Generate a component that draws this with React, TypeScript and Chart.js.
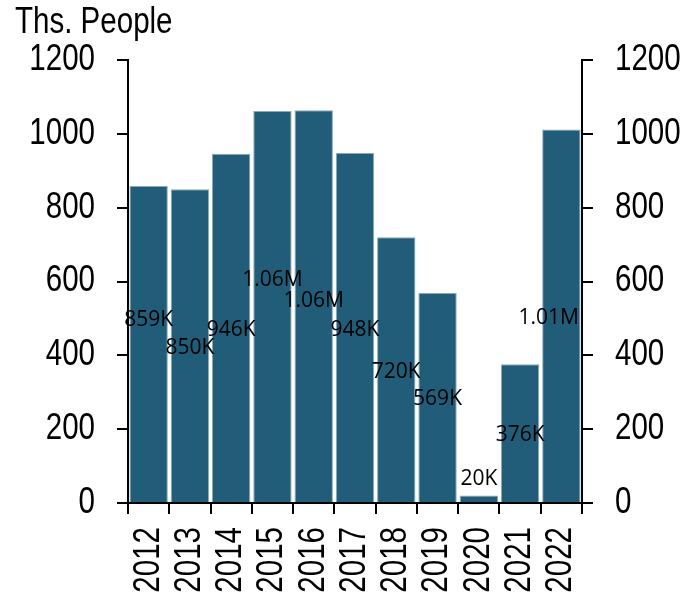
import React, { useEffect, useRef } from "react";
import { Chart, registerables } from "chart.js";

Chart.register(...registerables);

const categories = ["2012", "2013", "2014", "2015", "2016", "2017", "2018", "2019", "2020", "2021", "2022"];
const values = [859, 850, 946, 1062, 1064, 948, 720, 569, 20, 376, 1012];
// vertical nudge of each value label, in axis units (label otherwise sits at mid-bar)
const labelNudge = [70, 0, 0, 76, 18, 0, 0, 0, 0, 0, 0];
const yTicks = [0, 200, 400, 600, 800, 1000, 1200];
const titleText = "Ths. People";

const AXIS_FONT = "'Liberation Sans', Arial, sans-serif";
const AXIS_SIZE = 36;
const NARROW = 0.82; // horizontal squeeze to mimic a narrow face
const LABEL_FONT = "'Open Sans', 'Noto Sans', sans-serif";

const fmt = (v: number) => (v >= 1000 ? `${(v / 1000).toFixed(2)}M` : `${v}K`);

const labelPlugin = {
  id: "barLabels",
  afterDatasetsDraw(chart: any) {
    const { ctx, chartArea, scales } = chart;
    const meta = chart.getDatasetMeta(0);
    ctx.save();
    ctx.font = `21px ${LABEL_FONT}`;
    ctx.fillStyle = "#000";
    ctx.textAlign = "center";
    ctx.textBaseline = "alphabetic";
    meta.data.forEach((bar: any, i: number) => {
      const v = values[i];
      const text = fmt(v);
      const w = ctx.measureText(text).width;
      let x = bar.x;
      if (x + w / 2 > chartArea.right - 3) x = chartArea.right - 3 - w / 2;
      let y: number;
      if (v < 100) y = bar.y - 11;
      else y = scales.y.getPixelForValue(v / 2 + labelNudge[i]) + 7.5;
      ctx.fillText(text, x, y);
    });
    ctx.restore();
  },
};

// Draws axis tick labels and the title in a horizontally condensed face,
// positioned through the chart's own scales.
const narrowTextPlugin = {
  id: "narrowText",
  afterDraw(chart: any) {
    const { ctx, chartArea, scales } = chart;
    const put = (text: string, x: number, y: number, align: CanvasTextAlign, baseline: CanvasTextBaseline, rot = 0) => {
      ctx.save();
      ctx.translate(x, y);
      if (rot) ctx.rotate(rot);
      ctx.scale(NARROW, 1);
      ctx.textAlign = align;
      ctx.textBaseline = baseline;
      ctx.fillText(text, 0, 0);
      ctx.restore();
    };
    ctx.save();
    ctx.font = `${AXIS_SIZE}px ${AXIS_FONT}`;
    ctx.fillStyle = "#000";
    const tick = 11;
    const pad = 22;
    scales.y.ticks.forEach((t: any) => {
      put(String(t.value), chartArea.left - tick - pad, scales.y.getPixelForValue(t.value), "right", "middle");
    });
    scales.y2.ticks.forEach((t: any) => {
      put(String(t.value), chartArea.right + tick + pad, scales.y2.getPixelForValue(t.value), "left", "middle");
    });
    categories.forEach((c, i) => {
      put(c, scales.x.getPixelForValue(i), chartArea.bottom + tick + 13, "right", "middle", -Math.PI / 2);
    });
    put(titleText, 15, 33, "left", "alphabetic");
    ctx.restore();
  },
};

export default function App() {
  const ref = useRef<HTMLCanvasElement>(null);
  useEffect(() => {
    if (!ref.current) return;
    const yScaleCommon = {
      type: "linear" as const,
      min: yTicks[0],
      max: yTicks[yTicks.length - 1],
      afterBuildTicks: (scale: any) => {
        scale.ticks = yTicks.map((v) => ({ value: v }));
      },
      ticks: { display: false },
      grid: { drawOnChartArea: false, drawTicks: true, tickLength: 11, color: "#000", lineWidth: 2 },
      border: { display: true, color: "#000", width: 2 },
    };
    const chart = new Chart(ref.current, {
      type: "bar",
      data: {
        labels: categories,
        datasets: [
          {
            data: values,
            backgroundColor: "#215D79",
            borderColor: "#8AAABB",
            borderWidth: 1,
            barPercentage: 0.93,
            categoryPercentage: 1,
          },
        ],
      },
      options: {
        animation: false,
        responsive: true,
        maintainAspectRatio: false,
        layout: { padding: { left: 15, right: 0, top: 60, bottom: 0 } },
        plugins: {
          legend: { display: false },
          tooltip: { enabled: false },
          title: { display: false },
        },
        scales: {
          x: {
            type: "category",
            ticks: { display: false },
            grid: { offset: true, drawOnChartArea: false, drawTicks: true, tickLength: 11, color: "#000", lineWidth: 2 },
            border: { display: true, color: "#000", width: 2 },
            afterFit: (scale: any) => {
              scale.height = 93;
            },
          },
          y: {
            ...yScaleCommon,
            position: "left",
            afterFit: (scale: any) => {
              scale.width = 113;
            },
          },
          y2: {
            ...yScaleCommon,
            position: "right",
            display: true,
            afterFit: (scale: any) => {
              scale.width = 113;
            },
          },
        },
      } as any,
      plugins: [labelPlugin, narrowTextPlugin],
    });
    return () => chart.destroy();
  }, []);
  return (
    <div style={{ position: "fixed", left: 0, top: 0, width: 695, height: 596, background: "#fff" }}>
      <canvas ref={ref} />
    </div>
  );
}
